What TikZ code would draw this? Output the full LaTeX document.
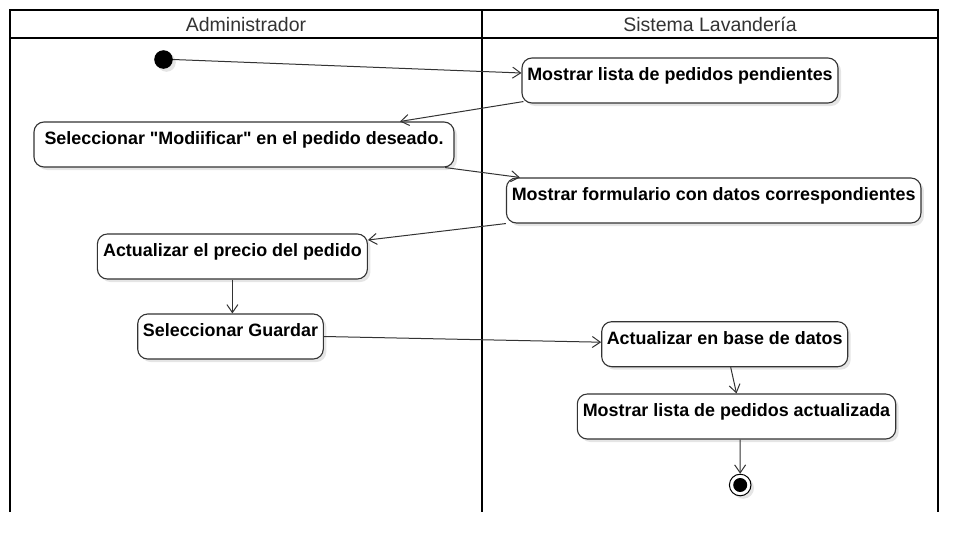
\documentclass[tikz,border=0pt]{standalone}
\usepackage{fontspec}
\setmainfont{Liberation Sans}[Ligatures=TeXOff]
\usetikzlibrary{arrows.meta,shadows,calc}
\definecolor{lanecol}{HTML}{000000}
\definecolor{boxcol}{HTML}{333333}
\definecolor{headtxt}{HTML}{333333}
\tikzset{
  lane/.style={draw=lanecol, line width=2pt},
  headlbl/.style={font=\fontsize{19.5}{22}\selectfont, text=headtxt, anchor=base, inner sep=0},
  act/.style={draw=boxcol, line width=1.1pt, rounded corners=10pt, fill=white,
    inner xsep=0pt, inner ysep=0pt, text height=22.5pt, text depth=22.5pt,
    font=\bfseries\fontsize{17.9}{20}\selectfont, text=black, align=center,
    general shadow={shadow xshift=3pt, shadow yshift=-3pt, fill=black!10}},
  flow/.style={draw=boxcol, line width=1pt, -{Straight Barb[length=8pt,width=11pt,line width=1pt]}},
}
\begin{document}
\begin{tikzpicture}[x=1pt,y=-1pt]
\useasboundingbox (0,0) rectangle (978,554);
% swimlanes
\draw[lane] (10,512) -- (10,10) -- (938,10) -- (938,512);
\draw[lane] (10,37.5) -- (938,37.5);
\draw[lane] (482,10) -- (482,512);
\node[headlbl] (h1) at (246,31.5) {Administrador};
\node[headlbl] (h2) at (710,31.5) {Sistema Lavandería};
% start
\node[circle, fill=black, minimum size=18.6pt, inner sep=0,
  general shadow={shadow xshift=3pt, shadow yshift=-3pt, fill=black!10}] (start) at (163.5,59.5) {};
% activities
\node[act, minimum width=316pt] (n1) at (680,80.5) {Mostrar lista de pedidos pendientes};
\node[act, minimum width=420pt] (n2) at (244,144.5) {Seleccionar \symbol{34}Modiificar\symbol{34} en el pedido deseado.};
\node[act, minimum width=414.5pt] (n3) at (713.7,200.5) {Mostrar formulario con datos correspondientes};
\node[act, minimum width=270pt] (n4) at (232.4,256.5) {Actualizar el precio del pedido};
\node[act, minimum width=185.6pt] (n5) at (230.5,336.5) {Seleccionar Guardar};
\node[act, minimum width=246pt] (n6) at (724.7,344.2) {Actualizar en base de datos};
\node[act, minimum width=318.4pt] (n7) at (736.5,416.5) {Mostrar lista de pedidos actualizada};
% end
\node[circle, draw=black, line width=1pt, fill=white, minimum size=21.6pt, inner sep=0,
  general shadow={shadow xshift=3pt, shadow yshift=-3pt, fill=black!10}] (end) at (740.2,485) {};
\node[circle, fill=black, minimum size=14pt, inner sep=0] (endin) at (end.center) {};
% flows
\draw[flow] (start.east) -- ([yshift=7.5pt]n1.west);
\draw[flow] ([xshift=2pt,yshift=2pt]n1.south west) -- ([xshift=156pt]n2.north);
\draw[flow] ([xshift=201pt]n2.south) -- ([xshift=14pt]n3.north west);
\draw[flow] (n3.south west) -- ([yshift=16.5pt]n4.east);
\draw[flow] (n4.south) -- (n4.south |- n5.north);
\draw[flow] (n5.east) -- ([yshift=2pt]n6.west);
\draw[flow] ([xshift=6pt]n6.south) -- (n7.north);
\draw[flow] ([xshift=3.5pt]n7.south) -- (end.north);
\end{tikzpicture}
\end{document}
